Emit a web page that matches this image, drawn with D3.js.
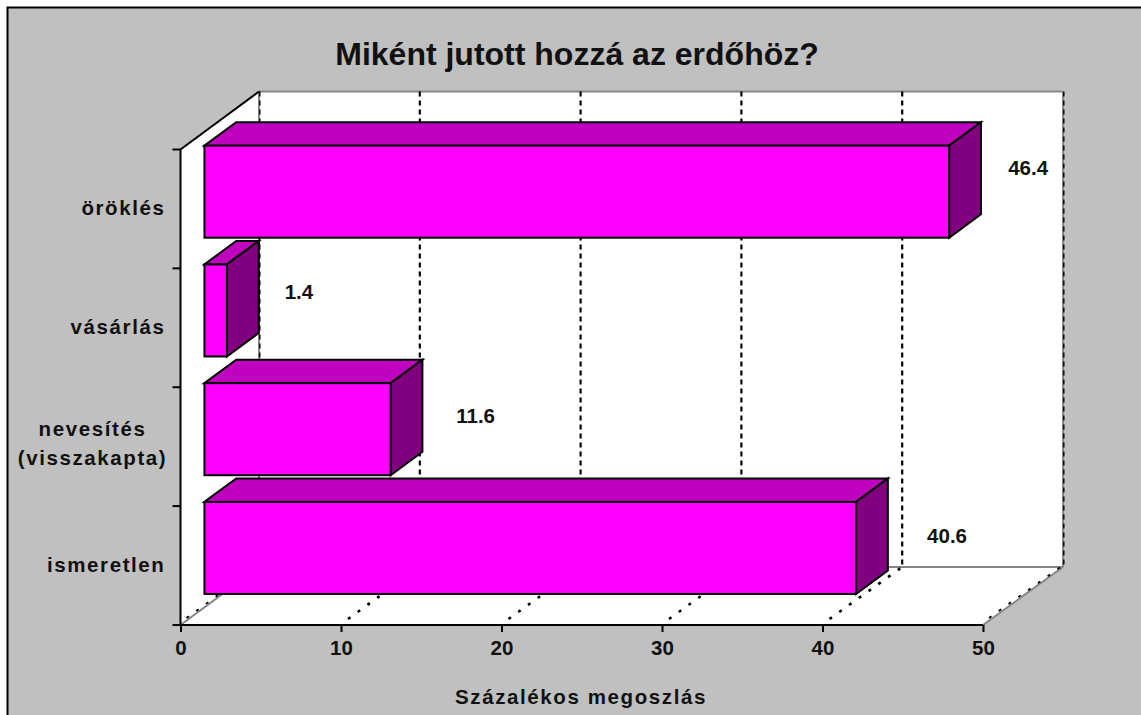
<!DOCTYPE html>
<html><head><meta charset="utf-8">
<script src="https://cdn.jsdelivr.net/npm/d3@7"></script>
<style>html,body{margin:0;padding:0;background:#fff}svg{display:block}text{font-family:"Liberation Sans",Arial,sans-serif;font-weight:bold;fill:#111}</style>
</head><body><svg id="c" width="1141" height="715"></svg>
<script>
const titleText = "Miként jutott hozzá az erdőhöz?";
const axisTitle = "Százalékos megoszlás";
const categories = ["öröklés", "vásárlás", "nevesítés|(visszakapta)", "ismeretlen"];
const values = [46.4, 1.4, 11.6, 40.6];
const xTicks = [0, 10, 20, 30, 40, 50];
const labelShift = [79, 72, 85, 91];
const labelDrop = [29, 35, 40, 41];

const W = 1141, H = 715;
const depthX = 78.5, depthY = -58;
const barStart = 0.305, barDepth = 0.405;
const x = d3.scaleLinear().domain([0, 50]).range([180.5, 983]);
const xBack = d3.scaleLinear().domain([0, 50]).range([259, 1063]);
const y = d3.scaleBand().domain(categories).range([150, 625]).paddingInner(0.225).paddingOuter(0.1125);
const yEdge = d3.scaleBand().domain(categories).range([149.5, 625]);
const svg = d3.select("#c");
const pts = a => a.map(p => p.join(",")).join(" ");
const line = (g, x1, y1, x2, y2, stroke, w, dash) => g.append("line")
  .attr("x1", x1).attr("y1", y1).attr("x2", x2).attr("y2", y2)
  .attr("stroke", stroke).attr("stroke-width", w).attr("stroke-dasharray", dash || null);

svg.append("rect").attr("width", W).attr("height", H).attr("fill", "#fff");
svg.append("rect").attr("x", 7.5).attr("y", 7.5).attr("width", W + 10).attr("height", H + 10)
  .attr("fill", "#c0c0c0").attr("stroke", "#000").attr("stroke-width", 2);

const [y0, y1] = [625, 149.5];
const yb0 = y0 + depthY, yb1 = y1 + depthY;
const x0 = x(0), x5 = x(50), bx0 = xBack(0), bx5 = xBack(50);
const walls = svg.append("g");
walls.append("polygon").attr("fill", "#fff")
  .attr("points", pts([[x0, y1], [bx0, yb1], [bx5, yb1], [bx5, yb0], [x5, y0], [x0, y0]]));

// wall edges
const gray = "#868686";
line(walls, bx0, yb1, bx5, yb1, gray, 2);
line(walls, bx5, yb1, bx5, yb0, gray, 2);
line(walls, bx0, yb0, bx5, yb0, gray, 2);
line(walls, bx0, yb1, bx0, yb0, gray, 2);
line(walls, x0, y0, bx0, yb0, gray, 2);
line(walls, x5, y0, bx5, yb0, gray, 2);

// grid lines
xTicks.forEach(t => {
  const edge = t === xTicks[0] || t === xTicks[xTicks.length - 1];
  const off = edge ? 0.8 : 0;
  line(walls, xBack(t) + off, yb1, xBack(t) + off, yb0, "#000", edge ? 1.4 : 2.2, "5 4");
  const sx = edge ? 1 : 0;
  line(walls, x(t) + 7 - sx, y0 - 6 - sx, xBack(t) - sx, yb0 - sx, "#000", edge ? 1.8 : 2.6, "3 9");
});

// bars
const bars = svg.append("g").attr("stroke", "#000").attr("stroke-width", 2).attr("stroke-linejoin", "miter");
categories.forEach((c, i) => {
  const l = x(0) + barStart * depthX, r = x(values[i]) + barStart * depthX;
  const t = y(c) + barStart * depthY, b = t + y.bandwidth();
  const dx = barDepth * depthX, dy = barDepth * depthY;
  bars.append("polygon").attr("fill", "#bf00bf").attr("points", pts([[l, t], [l + dx, t + dy], [r + dx, t + dy], [r, t]]));
  bars.append("polygon").attr("fill", "#800080").attr("points", pts([[r, t], [r + dx, t + dy], [r + dx, b + dy], [r, b]]));
  bars.append("rect").attr("fill", "#ff00ff").attr("x", l).attr("y", t).attr("width", r - l).attr("height", b - t);
  svg.append("text").attr("x", r + labelShift[i]).attr("y", t + labelDrop[i]).attr("text-anchor", "middle")
    .attr("font-size", 20.5).text(values[i].toFixed(1));
});

// front axes
const ax = svg.append("g").attr("stroke", "#000").attr("stroke-width", 2);
line(ax, x0, y1, bx0, yb1, "#000", 2);
line(ax, x0, y1, x0, y0, "#000", 2);
line(ax, x0, y0, x5, y0, "#000", 2);
categories.forEach(c => line(ax, x0 - 8, yEdge(c), x0, yEdge(c), "#000", 2));
line(ax, x0 - 8, y0, x0, y0, "#000", 2);

const xAxis = d3.axisBottom(x).tickValues(xTicks).tickSize(7).tickPadding(8).tickFormat(d3.format("d"));
const gx = svg.append("g").attr("transform", `translate(0,${y0})`).call(xAxis);
gx.select(".domain").remove();
gx.selectAll(".tick line").attr("stroke", "#000").attr("stroke-width", 2);
gx.selectAll(".tick text").attr("font-size", 20.5).attr("fill", "#111");
gx.attr("font-family", null).attr("font-size", null);

// category labels
categories.forEach(c => {
  const parts = c.split("|");
  const cy = yEdge(c) + yEdge.bandwidth() / 2 + 6;
  parts.forEach((p, k) => {
    svg.append("text")
      .attr("x", parts.length > 1 ? 92.5 : 165.5)
      .attr("y", cy + (k - (parts.length - 1) / 2) * 29 - (parts.length > 1 ? 2.5 : 0))
      .attr("text-anchor", parts.length > 1 ? "middle" : "end")
      .attr("font-size", 20.5).attr("letter-spacing", 1.6).text(p);
  });
});

svg.append("text").attr("x", 577).attr("y", 65).attr("text-anchor", "middle").attr("font-size", 32).text(titleText);
svg.append("text").attr("x", 581).attr("y", 704).attr("text-anchor", "middle").attr("font-size", 20.5).attr("letter-spacing", 1.6).text(axisTitle);
</script></body></html>
